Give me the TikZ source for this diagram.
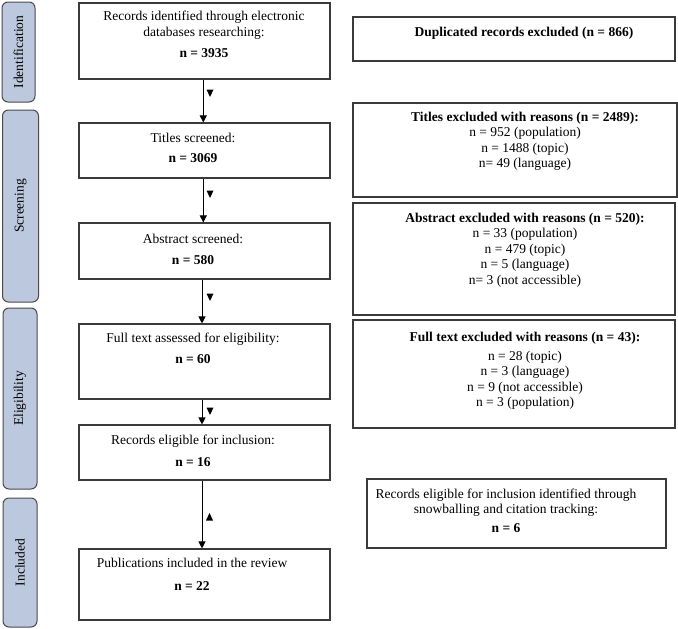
\documentclass[tikz,border=0pt]{standalone}
\usepackage{fontspec}
\setmainfont{Liberation Serif}
\usetikzlibrary{arrows.meta,calc}
\definecolor{sidefill}{HTML}{BBC8DD}
\definecolor{sideedge}{HTML}{4A4A4A}
\definecolor{boxedge}{HTML}{3A3A3A}
\tikzset{
  box/.style={draw=boxedge, line width=1.1pt, fill=white, inner sep=0pt},
  side/.style={draw=sideedge, line width=1pt, fill=sidefill, rounded corners=6pt, inner sep=0pt},
  txt/.style={font=\fontsize{13.5}{16}\selectfont, align=center, inner sep=0pt, anchor=base},
  rtxt/.style={font=\fontsize{13.5}{15.5}\selectfont, align=center, inner sep=0pt, anchor=base},
  sidetxt/.style={font=\fontsize{13.5}{15}\selectfont, rotate=90, inner sep=0pt},
  flow/.style={draw=black, line width=0.9pt, -{Triangle[width=7pt,length=7pt]}},
  marker/.style={fill=black}
}
\begin{document}
\begin{tikzpicture}[x=1pt,y=-1pt]
\useasboundingbox (0,0) rectangle (678,629);
% side phase labels
\node[side, minimum width=33pt, minimum height=100pt] (s1) at (18.5,52) {};
\node[side, minimum width=36pt, minimum height=192pt] (s2) at (20.5,206) {};
\node[side, minimum width=34pt, minimum height=181pt] (s3) at (20,398.5) {};
\node[side, minimum width=34pt, minimum height=129pt] (s4) at (20,562.5) {};
\node[sidetxt] (l1) at (s1.center) {Identification};
\node[sidetxt] (l2) at (s2.center) {Screening};
\node[sidetxt] (l3) at (s3.center) {Eligibility};
\node[sidetxt] (l4) at (s4.center) {Included};
% main boxes
\node[box, minimum width=251pt, minimum height=76pt] (b1) at (204.5,41) {};
\node[box, minimum width=251pt, minimum height=55pt] (b2) at (204.5,150.5) {};
\node[box, minimum width=251pt, minimum height=56pt] (b3) at (204.5,251) {};
\node[box, minimum width=251pt, minimum height=75pt] (b4) at (204.5,361.5) {};
\node[box, minimum width=251pt, minimum height=55pt] (b5) at (204.5,452.5) {};
\node[box, minimum width=251pt, minimum height=71pt] (b6) at (204.5,584.5) {};
% text nodes: anchored at the baseline of their last line
\node[txt] (t1) at (204,57) {Records identified through electronic\\databases researching:\\[5pt]\textbf{n = 3935}};
\node[txt] (t2) at (193,162) {Titles screened:\\[4pt]\textbf{n = 3069}};
\node[txt] (t3) at (193,264) {Abstract screened:\\[5pt]\textbf{n = 580}};
\node[txt] (t4) at (193,363) {Full text assessed for eligibility:\\[5pt]\textbf{n = 60}};
\node[txt] (t5) at (193,466) {Records eligible for inclusion:\\[6pt]\textbf{n = 16}};
\node[txt] (t6) at (192,590) {Publications included in the review\\[7pt]\textbf{n = 22}};
% right boxes
\node[box, minimum width=322pt, minimum height=44pt] (r1) at (514,39) {};
\node[box, minimum width=324pt, minimum height=94pt] (r2) at (515,150) {};
\node[box, minimum width=322pt, minimum height=112pt] (r3) at (514,259) {};
\node[box, minimum width=322pt, minimum height=108pt] (r4) at (514,374) {};
\node[box, minimum width=299pt, minimum height=69pt] (r5) at (516.5,513.5) {};
\node[rtxt] (u1) at (524,36) {\textbf{Duplicated records excluded (n = 866)}};
\node[rtxt] (u2) at (525,167.5) {\textbf{Titles excluded with reasons (n = 2489):}\\n = 952 (population)\\n = 1488 (topic)\\n= 49 (language)};
\node[rtxt] (u3) at (525,284) {\textbf{Abstract excluded with reasons (n = 520):}\\n = 33 (population)\\n = 479 (topic)\\n = 5 (language)\\n= 3 (not accessible)};
\node[rtxt] (u4) at (525,406.5) {\textbf{Full text excluded with reasons (n = 43):}\\[3pt]n = 28 (topic)\\n = 3 (language)\\n = 9 (not accessible)\\n = 3 (population)};
\node[rtxt] (u5) at (506,532) {Records eligible for inclusion identified through\\snowballing and citation tracking:\\[3pt]\textbf{n = 6}};
% connectors
\draw[flow] (b1.south -| 203.3,0) -- (b2.north -| 203.3,0);
\draw[flow] (b2.south -| 203.3,0) -- (b3.north -| 203.3,0);
\draw[flow] (b3.south -| 202,0) -- (b4.north -| 202,0);
\draw[flow] (b4.south -| 202,0) -- (b5.north -| 202,0);
\draw[flow] (b5.south -| 202,0) -- (b6.north -| 202,0);
% small triangle markers
\coordinate (m1) at (210,93);
\coordinate (m2) at (210,194);
\coordinate (m3) at (210,297);
\coordinate (m4) at (210,411);
\coordinate (m5) at (209.5,517);
\foreach \m in {m1,m2,m3,m4}{
  \fill[marker] ($(\m)+(-3.5,-3.5)$) -- ($(\m)+(3.5,-3.5)$) -- ($(\m)+(0,4)$) -- cycle;
}
\fill[marker] ($(m5)+(-3.5,3.5)$) -- ($(m5)+(3.5,3.5)$) -- ($(m5)+(0,-4)$) -- cycle;
\end{tikzpicture}
\end{document}
